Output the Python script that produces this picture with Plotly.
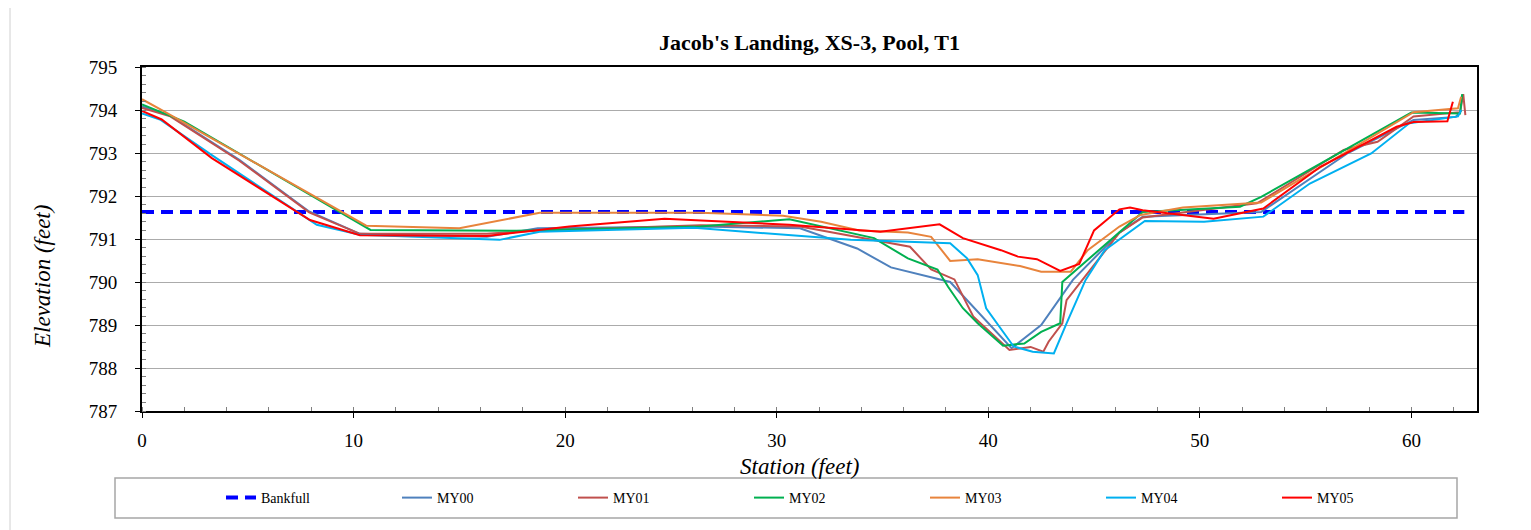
import plotly.graph_objects as go

# survey data (station ft, elevation ft)
bankfull_x = [0, 62.5]
bankfull_y = [791.63, 791.63]

my00_x = [0, 1.3, 4.6, 7.9, 10.3, 16.3, 18.7, 26.4, 31.1, 33.8, 35.4, 38.2, 41.1, 42.5, 44.0, 46.2, 47.3, 52.9, 57.0, 60.1, 62.1, 62.35]
my00_y = [794.08, 793.88, 792.84, 791.64, 791.12, 791.05, 791.25, 791.29, 791.25, 790.78, 790.34, 790.0, 788.46, 789.0, 790.05, 791.15, 791.52, 791.63, 793.0, 793.77, 793.84, 793.98]

my01_x = [0, 1.3, 4.6, 7.9, 10.3, 16.3, 18.8, 26.4, 31.1, 36.3, 37.3, 38.4, 39.3, 41.0, 42.0, 42.6, 42.85, 43.5, 43.7, 46.2, 47.3, 49.0, 52.7, 56.8, 57.1, 58.4, 60.1, 62.3, 62.45, 62.55]
my01_y = [794.05, 793.86, 792.82, 791.62, 791.12, 791.12, 791.2, 791.32, 791.29, 790.82, 790.29, 790.06, 789.19, 788.42, 788.49, 788.38, 788.61, 789.04, 789.58, 791.15, 791.5, 791.6, 791.83, 793.07, 793.11, 793.26, 793.85, 793.95, 794.37, 793.88]

my02_x = [0, 2.0, 10.8, 17.7, 26.4, 30.6, 34.6, 36.2, 37.6, 38.1, 38.8, 39.5, 40.7, 41.7, 42.5, 43.4, 43.5, 44.2, 46.2, 47.3, 51.9, 52.9, 60.0, 62.3, 62.4]
my02_y = [794.13, 793.73, 791.21, 791.19, 791.29, 791.46, 791.02, 790.55, 790.29, 789.89, 789.39, 789.04, 788.52, 788.57, 788.84, 789.04, 790.0, 790.3, 791.17, 791.63, 791.75, 791.98, 793.94, 793.92, 794.37]

my03_x = [0, 1.0, 10.6, 15.0, 18.8, 26.4, 30.3, 32.1, 33.9, 36.2, 37.3, 38.2, 39.5, 41.5, 42.5, 43.9, 44.7, 46.2, 47.2, 49.2, 52.9, 60.1, 62.2, 62.35]
my03_y = [794.25, 793.98, 791.31, 791.25, 791.61, 791.61, 791.54, 791.4, 791.2, 791.15, 791.05, 790.49, 790.53, 790.37, 790.24, 790.24, 790.74, 791.29, 791.56, 791.73, 791.85, 793.95, 794.04, 794.31]

my04_x = [0, 0.85, 3.3, 8.26, 10.3, 16.9, 18.8, 26.1, 33.5, 38.2, 39.0, 39.5, 39.9, 41.2, 42.1, 43.1, 43.7, 44.6, 45.5, 47.4, 50.2, 53.0, 55.2, 58.1, 59.9, 62.2, 62.35]
my04_y = [793.92, 793.78, 792.95, 791.33, 791.1, 790.98, 791.17, 791.26, 790.98, 790.9, 790.55, 790.16, 789.39, 788.5, 788.38, 788.34, 789.04, 790.05, 790.74, 791.42, 791.4, 791.52, 792.29, 792.99, 793.69, 793.85, 794.0]

my05_x = [0, 0.93, 3.3, 7.94, 10.3, 16.3, 20.2, 24.7, 30.6, 34.9, 37.7, 38.8, 40.6, 41.4, 42.3, 43.4, 44.3, 45.0, 46.2, 46.7, 47.3, 50.65, 53.0, 55.7, 59.3, 60.1, 61.7, 61.96]
my05_y = [793.98, 793.78, 792.88, 791.44, 791.09, 791.07, 791.29, 791.47, 791.33, 791.17, 791.34, 791.02, 790.74, 790.59, 790.53, 790.26, 790.42, 791.2, 791.69, 791.73, 791.67, 791.47, 791.71, 792.68, 793.61, 793.72, 793.74, 794.19]

series = [
    ("MY00", my00_x, my00_y, "#4F81BD"),
    ("MY01", my01_x, my01_y, "#C0504D"),
    ("MY02", my02_x, my02_y, "#00B050"),
    ("MY03", my03_x, my03_y, "#E8843C"),
    ("MY04", my04_x, my04_y, "#00B0F0"),
    ("MY05", my05_x, my05_y, "#FF0000"),
]

FONT = "Liberation Serif"
OFF = 8  # page body margin

fig = go.Figure()
fig.add_trace(go.Scatter(x=bankfull_x, y=bankfull_y, mode="lines", name="Bankfull",
                         line=dict(color="#0000FF", width=4, dash="12px,7px")))
for name, xs, ys, col in series:
    fig.add_trace(go.Scatter(x=xs, y=ys, mode="lines", name=name,
                             line=dict(color=col, width=2)))

# plot area on the page: x 142..1477, y 67..411 px
def px_x(p):
    return (p - 142) / 1335

def px_y(p):
    return (411 - p) / 344

fig.update_layout(
    width=1531, height=530,
    margin=dict(l=142 - OFF, r=54 + OFF, t=67 - OFF, b=119 + OFF, autoexpand=False),
    paper_bgcolor="white", plot_bgcolor="white",
    font=dict(family=FONT, color="black"),
    title=dict(text="<b>Jacob's Landing, XS-3, Pool, T1</b>", x=0.5, xref="paper",
               y=1 - (42 - OFF) / 530, yanchor="middle", font=dict(size=22, family=FONT)),
    showlegend=True,
    legend=dict(orientation="h", x=px_x(221), xanchor="left", y=px_y(498), yanchor="middle",
                entrywidth=131, entrywidthmode="pixels", font=dict(size=14, family=FONT),
                bgcolor="rgba(0,0,0,0)"),
    annotations=[
        dict(text="<i>Station (feet)</i>", xref="paper", yref="paper", x=px_x(799), y=px_y(466),
             showarrow=False, xanchor="center", yanchor="middle", font=dict(size=23, family=FONT)),
        dict(text="<i>Elevation (feet)</i>", xref="paper", yref="paper", x=px_x(42), y=px_y(277),
             showarrow=False, xanchor="center", yanchor="middle", textangle=-90,
             font=dict(size=23, family=FONT)),
    ],
    shapes=[
        # legend frame
        dict(type="rect", xref="paper", yref="paper", x0=px_x(115), x1=px_x(1457),
             y0=px_y(518), y1=px_y(478), line=dict(color="#A6A6A6", width=1.5)),
        # outer chart frame
        dict(type="line", xref="paper", yref="paper", x0=px_x(10), x1=px_x(1540),
             y0=px_y(5), y1=px_y(5), line=dict(color="#D0D0D0", width=1)),
        dict(type="line", xref="paper", yref="paper", x0=px_x(10), x1=px_x(10),
             y0=px_y(5), y1=px_y(540), line=dict(color="#D0D0D0", width=1)),
    ],
)

fig.update_xaxes(
    range=[0, 63.1], dtick=10, tick0=0, showgrid=False, zeroline=False,
    showline=True, linecolor="black", linewidth=2, mirror=True,
    ticks="outside", ticklen=5, tickcolor="black",
    minor=dict(dtick=2, ticks="inside", ticklen=4, tickcolor="#808080"),
    tickfont=dict(size=19, family=FONT), ticklabelstandoff=6,
)
fig.update_yaxes(
    range=[787, 795], dtick=1, showgrid=True, gridcolor="#ABABAB", gridwidth=1, zeroline=False,
    showline=True, linecolor="black", linewidth=2, mirror=True,
    ticks="outside", ticklen=5, tickcolor="black",
    minor=dict(dtick=0.2, ticks="inside", ticklen=4, tickcolor="#808080"),
    tickfont=dict(size=19, family=FONT), ticklabelstandoff=14,
)

fig.write_html("out.html")
